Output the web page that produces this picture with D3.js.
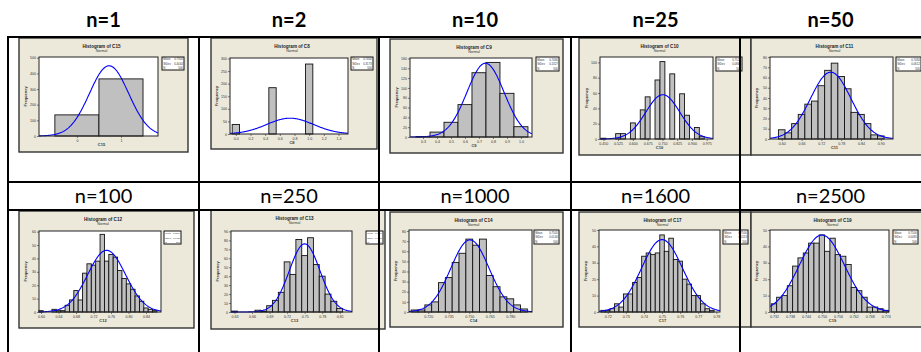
<!DOCTYPE html>
<html>
<head>
<meta charset="utf-8">
<script src="https://cdn.jsdelivr.net/npm/d3@7"></script>
<style>
  body { margin: 0; background: #fff; }
  svg { display: block; }
</style>
</head>
<body>
<div id="tableArea"></div>
<script>
// ---- data ----
let headers = ['n=1', 'n=2', 'n=10', 'n=25', 'n=50', 'n=100', 'n=250', 'n=1000', 'n=1600', 'n=2500']
let columnNames = ['C15', 'C8', 'C9', 'C10', 'C11', 'C12', 'C13', 'C14', 'C17', 'C19']

// centre of the first bin and bin width of every histogram
let firstBins = [0, 0, 0.3, 0.45, 0.60, 0.60, 0.63, 0.710, 0.7175, 0.732]
let binWidths = [1, 0.1, 0.1, 0.025, 0.02, 0.01, 0.01, 0.005, 0.0025, 0.002]

let freqN1 = [135, 365]
let freqN2 = [38, 0, 0, 0, 0, 184, 0, 0, 0, 0, 278]
let freqN10 = [1, 10, 30, 66, 131, 152, 89, 21]
let freqN25 = [1, 0, 0, 7, 7, 0, 21, 0, 38, 55, 0, 77, 101, 0, 85, 0, 59, 31, 0, 15, 3]
let freqN50 = [9, 6, 15, 24, 34, 37, 52, 67, 74, 61, 49, 26, 24, 15, 4, 3]
let freqN100 = [1, 0, 0, 2, 1, 1, 5, 9, 16, 9, 29, 36, 35, 38, 58, 38, 43, 41, 31, 25, 21, 17, 12, 8, 3, 2, 1]
let freqN250 = [1, 0, 0, 0, 2, 1, 7, 13, 22, 56, 42, 81, 63, 83, 53, 40, 20, 12, 4]
let freqN1000 = [2, 2, 7, 10, 29, 34, 49, 58, 72, 66, 72, 36, 25, 15, 13, 7, 3]
let freqN1600 = [1, 1, 2, 5, 3, 11, 11, 18, 21, 34, 36, 35, 36, 47, 37, 45, 32, 31, 20, 17, 10, 10, 5, 2, 1]
let freqN2500 = [5, 9, 10, 16, 28, 33, 36, 42, 42, 47, 37, 45, 35, 34, 29, 15, 13, 9, 3, 3, 2, 1]
let frequencies = [freqN1, freqN2, freqN10, freqN25, freqN50, freqN100, freqN250, freqN1000, freqN1600, freqN2500]

// normal fit shown in each legend box
let means = [0.7300, 0.7400, 0.7466, 0.7521, 0.7484, 0.7500, 0.7500, 0.7505, 0.7500, 0.7500]
let stdevs = [0.4444, 0.3173, 0.1327, 0.0863, 0.0612, 0.0433, 0.0262, 0.0140, 0.0113, 0.0085]
let sampleSizes = [500, 500, 500, 500, 500, 500, 500, 500, 500, 500]

let yTicks = [
  [0, 100, 200, 300, 400, 500],
  [0, 50, 100, 150, 200, 250, 300],
  [0, 20, 40, 60, 80, 100, 120, 140, 160],
  [0, 20, 40, 60, 80, 100],
  [0, 10, 20, 30, 40, 50, 60, 70, 80],
  [0, 10, 20, 30, 40, 50, 60],
  [0, 10, 20, 30, 40, 50, 60, 70, 80, 90],
  [0, 10, 20, 30, 40, 50, 60, 70, 80],
  [0, 10, 20, 30, 40, 50],
  [0, 10, 20, 30, 40, 50]
]
let xTickLabels = [
  ['0', '1'],
  ['0.0', '0.2', '0.4', '0.6', '0.8', '1.0', '1.2', '1.4'],
  ['0.3', '0.4', '0.5', '0.6', '0.7', '0.8', '0.9', '1.0'],
  ['0.450', '0.525', '0.600', '0.675', '0.750', '0.825', '0.900', '0.975'],
  ['0.60', '0.66', '0.72', '0.78', '0.84', '0.90'],
  ['0.60', '0.64', '0.68', '0.72', '0.76', '0.80', '0.84'],
  ['0.63', '0.66', '0.69', '0.72', '0.75', '0.78', '0.81'],
  ['0.720', '0.735', '0.750', '0.765', '0.780'],
  ['0.72', '0.73', '0.74', '0.75', '0.76', '0.77', '0.78'],
  ['0.732', '0.738', '0.744', '0.750', '0.756', '0.762', '0.768', '0.774']
]

// ---- layout (pixels), kept apart from the data ----
let xDomains = [[-0.86, 1.84], [-0.08, 1.53], [0.207, 1.079], [0.433, 1.007], [0.5645, 0.937],
  [0.5954, 0.8743], [0.624, 0.831], [0.7059, 0.7959], [0.7152, 0.782], [0.7305, 0.7752]]
let yTops = [505, 302, 161, 107, 80, 60.5, 90.5, 81, 50, 50]
// [x, y, w, h] of each pasted graph
let frames = [[19, 38, 169, 114], [211, 38, 166, 111], [390, 39, 173, 114], [579, 38, 172, 117], [751, 38, 190, 117],
  [19, 211, 175, 117], [211, 210, 174, 119], [390, 212, 173, 115], [579, 212, 172, 115], [751, 212, 190, 115]]
// [x0, y0, x1, y1] of each plot area
let plots = [[39, 57, 158, 136], [230, 58, 348, 134], [410, 58, 532, 137], [600, 57, 713, 139], [770, 57, 893, 139],
  [39, 231, 161, 312], [231, 231, 352, 312], [409, 230, 532, 312], [599, 230, 720, 312], [770, 230, 889, 312]]
let statBoxes = [[162, 57, 184, 70], [351, 57, 373, 70], [536, 57, 559, 71], [716, 57, 742, 71], [896, 57, 921, 71],
  [164, 231, 181, 244], [366, 231, 383, 244], [534, 230, 559, 244], [723, 230, 748, 244], [893, 230, 918, 244]]

let colCentres = [103.5, 289, 475, 655.5, 830.5]
let colLines = [8, 199, 379, 571, 740]
let rowLines = [37, 182, 210]

let chartFont = 'Liberation Sans, Arial, sans-serif'

/**
 * Normal density scaled to counts.
 */
function normalCount(v, mean, sd, n, bw) {
  return n * bw * Math.exp(-0.5 * ((v - mean) / sd) ** 2) / (sd * Math.sqrt(2 * Math.PI))
}

/**
 * Draws one Minitab style histogram panel.
 * @param svg - the page svg.
 * @param i - panel index.
 */
function drawPanel(svg, i) {
  let f = frames[i]
  let p = plots[i]
  let s = statBoxes[i]
  let g = svg.append('g')

  g.append('rect')
    .attr('x', f[0]).attr('y', f[1]).attr('width', f[2]).attr('height', f[3])
    .attr('fill', '#ECE9DA').attr('stroke', '#333').attr('stroke-width', 1.4)

  let x = d3.scaleLinear().domain(xDomains[i]).range([p[0], p[2]])
  let y = d3.scaleLinear().domain([0, yTops[i]]).range([p[3], p[1]])

  g.append('rect')
    .attr('x', p[0]).attr('y', p[1]).attr('width', p[2] - p[0]).attr('height', p[3] - p[1])
    .attr('fill', '#fff')

  let bw = binWidths[i]
  let bins = frequencies[i].map((c, k) => ({ mid: firstBins[i] + k * bw, count: c }))

  g.selectAll('rect.bar')
    .data(bins)
    .enter()
    .append('rect')
    .attr('class', 'bar')
    .attr('x', (d) => x(d.mid - bw / 2))
    .attr('width', (d) => x(d.mid + bw / 2) - x(d.mid - bw / 2))
    .attr('y', (d) => y(d.count))
    .attr('height', (d) => y(0) - y(d.count))
    .attr('fill', '#C0C0C0')
    .attr('stroke', '#111')
    .attr('stroke-width', 0.9)

  // fitted normal curve
  let dom = xDomains[i]
  let pts = d3.range(0, 201).map((k) => dom[0] + (dom[1] - dom[0]) * k / 200)
  let line = d3.line()
    .x((d) => x(d))
    .y((d) => y(normalCount(d, means[i], stdevs[i], sampleSizes[i], bw)))
    .curve(d3.curveLinear)
  g.append('path')
    .attr('d', line(pts))
    .attr('fill', 'none')
    .attr('stroke', '#0000FF')
    .attr('stroke-width', 1.1)

  g.append('rect')
    .attr('x', p[0]).attr('y', p[1]).attr('width', p[2] - p[0]).attr('height', p[3] - p[1])
    .attr('fill', 'none').attr('stroke', '#222').attr('stroke-width', 1)

  let yAxis = g.append('g')
    .attr('transform', 'translate(' + p[0] + ',0)')
    .call(d3.axisLeft(y).tickValues(yTicks[i]).tickSize(2).tickPadding(1).tickFormat(d3.format('d')))
  let xAxis = g.append('g')
    .attr('transform', 'translate(0,' + p[3] + ')')
    .call(d3.axisBottom(x).tickValues(xTickLabels[i].map(Number)).tickSize(2).tickPadding(1)
      .tickFormat((d, k) => xTickLabels[i][k]))
  ;[yAxis, xAxis].forEach((a) => {
    a.attr('font-size', 3.6).attr('font-family', chartFont)
    a.select('.domain').remove()
    a.selectAll('line').attr('stroke', '#333').attr('stroke-width', 0.6)
    a.selectAll('text').attr('fill', '#333')
  })

  let cx = (p[0] + p[2]) / 2 + 3
  g.append('text')
    .attr('x', cx).attr('y', f[1] + 9.5)
    .attr('text-anchor', 'middle').attr('font-family', chartFont)
    .attr('font-size', 4.6).attr('font-weight', 'bold').attr('fill', '#222')
    .text('Histogram of ' + columnNames[i])
  g.append('text')
    .attr('x', cx).attr('y', f[1] + 14)
    .attr('text-anchor', 'middle').attr('font-family', chartFont)
    .attr('font-size', 3.6).attr('fill', '#333')
    .text('Normal')
  g.append('text')
    .attr('x', cx).attr('y', p[3] + 10)
    .attr('text-anchor', 'middle').attr('font-family', chartFont)
    .attr('font-size', 4).attr('font-weight', 'bold').attr('fill', '#333')
    .text(columnNames[i])
  g.append('text')
    .attr('transform', 'translate(' + (p[0] - 12) + ',' + ((p[1] + p[3]) / 2) + ') rotate(-90)')
    .attr('text-anchor', 'middle').attr('font-family', chartFont)
    .attr('font-size', 4).attr('font-weight', 'bold').attr('fill', '#333')
    .text('Frequency')

  // legend box with the fit statistics
  g.append('rect')
    .attr('x', s[0]).attr('y', s[1]).attr('width', s[2] - s[0]).attr('height', s[3] - s[1])
    .attr('fill', '#fff').attr('stroke', '#111').attr('stroke-width', 1)
  let rows = [['Mean', d3.format('.4f')(means[i])], ['StDev', d3.format('.4f')(stdevs[i])], ['N', sampleSizes[i]]]
  let rh = (s[3] - s[1]) / 3
  let fs = Math.min(2.8, (s[2] - s[0]) / 7.5)
  rows.forEach((r, k) => {
    g.append('text').attr('x', s[0] + 1.2).attr('y', s[1] + rh * (k + 0.8))
      .attr('font-family', chartFont).attr('font-size', fs).attr('fill', '#333').text(r[0])
    g.append('text').attr('x', s[2] - 1.2).attr('y', s[1] + rh * (k + 0.8))
      .attr('text-anchor', 'end')
      .attr('font-family', chartFont).attr('font-size', fs).attr('fill', '#333').text(r[1])
  })
}

/**
 * Draws the whole table.
 */
function sampleTable() {
  let svg = d3.select('#tableArea').append('svg')
    .attr('width', 921)
    .attr('height', 352)

  headers.forEach((h, i) => {
    let row = i < 5 ? 0 : 1
    svg.append('text')
      .attr('x', colCentres[i % 5])
      .attr('y', row ? 203 : 27)
      .attr('text-anchor', 'middle')
      .attr('font-family', 'Lato, sans-serif')
      .attr('font-size', 20)
      .attr('font-weight', row ? 'normal' : 'bold')
      .attr('fill', '#000')
      .text(h)
  })

  headers.forEach((h, i) => drawPanel(svg, i))

  rowLines.forEach((ly) => {
    svg.append('line')
      .attr('x1', 7).attr('x2', 921).attr('y1', ly).attr('y2', ly)
      .attr('stroke', '#000').attr('stroke-width', 2)
  })
  colLines.forEach((lx) => {
    svg.append('line')
      .attr('x1', lx).attr('x2', lx).attr('y1', 36).attr('y2', 352)
      .attr('stroke', '#000').attr('stroke-width', 2)
  })
}

sampleTable()
</script>
</body>
</html>
